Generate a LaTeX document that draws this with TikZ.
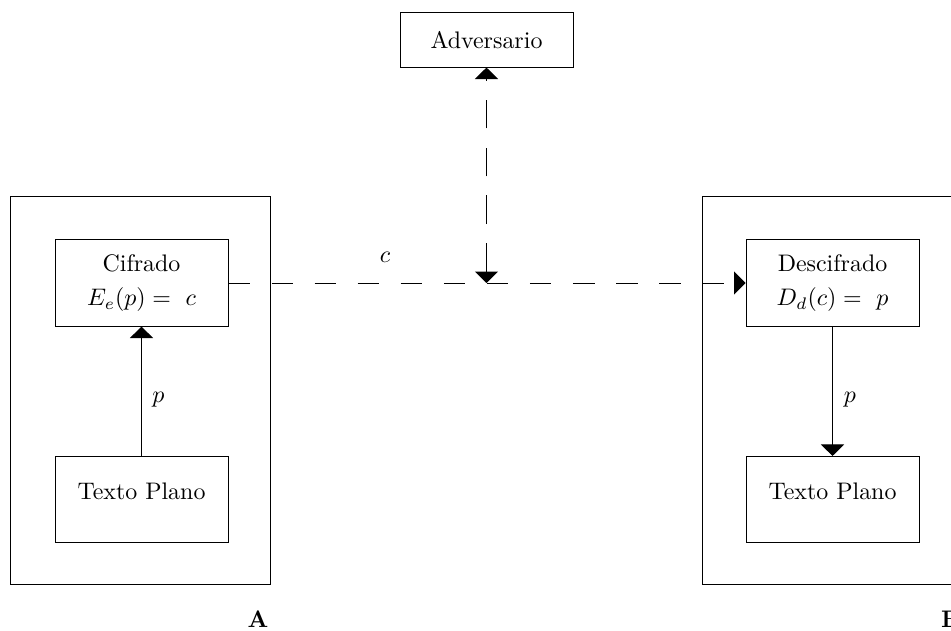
\documentclass[tikz,border=0pt]{standalone}
\usetikzlibrary{arrows.meta,positioning}
\tikzset{mytri/.tip={Triangle[width=9.6pt,length=4.8pt]}}
\begin{document}
\begin{tikzpicture}[x=0.418pt,y=-0.418pt,
  inner/.style={draw,minimum width=72.3pt,minimum height=36pt,align=center,inner sep=0pt},
  outer/.style={draw,minimum width=108.3pt,minimum height=161.8pt,inner sep=0pt},
  lbl/.style={anchor=base,inner sep=0pt}]
\useasboundingbox (0,0) rectangle (951,630);
% outer boxes
\node[outer] (boxA) at (140.5,390.5) {};
\node[outer] (boxB) at (832.5,390.5) {};
% inner nodes
\node[inner] (cif) at (141.5,283) {Cifrado\\[2.2pt] $E_e(p) =\ c$};
\node[inner,text depth=6.8pt] (tpA) at (141.5,499.5) {Texto Plano};
\node[inner] (des) at (832.5,283) {Descifrado\\[2.2pt] $D_d(c) =\ p$};
\node[inner,text depth=6.8pt] (tpB) at (832.5,499.5) {Texto Plano};
\node[draw,minimum width=72.3pt,minimum height=22.6pt,inner sep=0pt] (adv) at (486.5,40) {Adversario};
\coordinate (mid) at (adv.south |- cif.east);
% connectors
\draw[-mytri] (tpA) -- (cif);
\draw[-mytri] (des) -- (tpB);
\draw[-mytri,dash pattern=on 9pt off 9pt] (cif.east) -- (des.west);
\draw[mytri-mytri,line width=0.8pt,dash pattern=on 12pt off 8pt] (mid) -- (adv.south);
% labels
\node[lbl] (lc) at (385,262) {$c$};
\node[lbl] (lpA) at (158.5,402) {$p$};
\node[lbl] (lpB) at (850,402) {$p$};
\node[lbl] (lA) at (258,627.5) {\textbf{A}};
\node[lbl] (lB) at (951,627.5) {\textbf{B}};
\end{tikzpicture}
\end{document}
